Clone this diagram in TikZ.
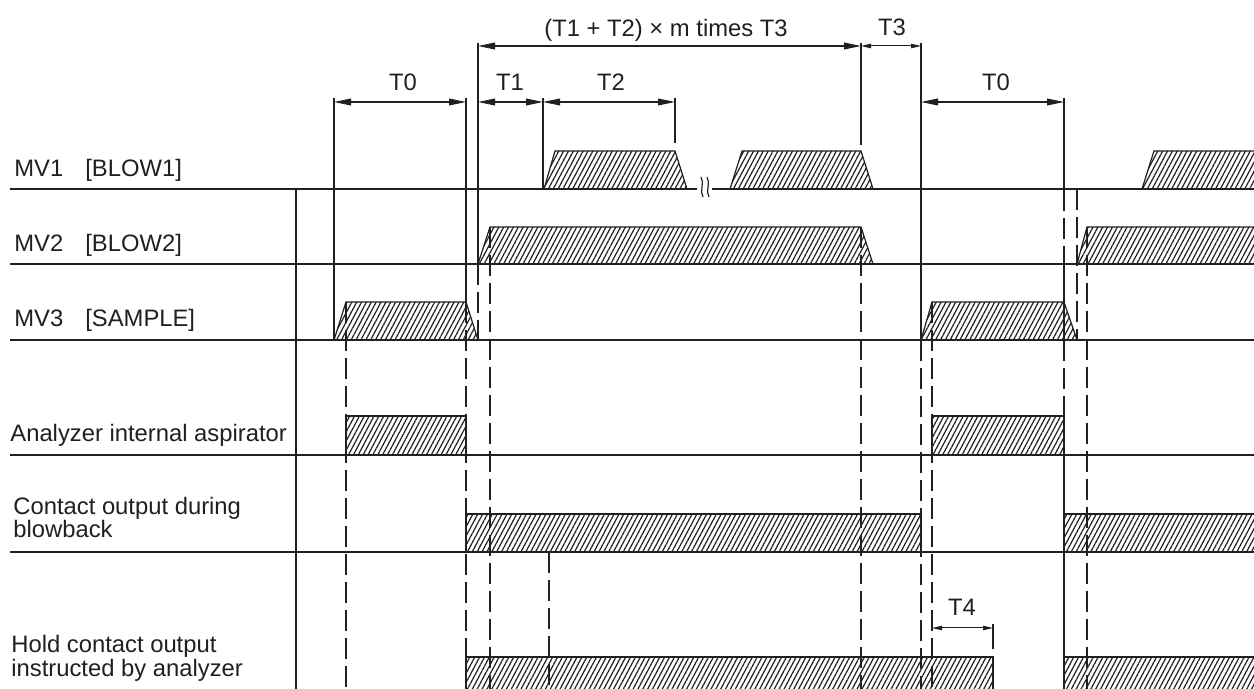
\documentclass[tikz,border=0pt]{standalone}
\usepackage{fontspec}
\setmainfont{Liberation Sans}
\usetikzlibrary{arrows.meta,patterns.meta}
\definecolor{ink}{HTML}{231F20}
\begin{document}
\begin{tikzpicture}[x=0.5pt,y=-0.5pt,
  every node/.style={font=\fontsize{11.9}{14}\selectfont, text=ink, inner sep=0pt},
  rowlbl/.style={anchor=base west},
  dimlbl/.style={anchor=base},
  rowline/.style={draw=ink, line width=0.7pt},
  ext/.style={draw=ink, line width=0.6pt},
  dsh/.style={draw=ink, line width=0.6pt, dash pattern=on 10.5pt off 3.5pt},
  pulse/.style={draw=ink, line width=0.6pt, line join=miter,
    pattern={Lines[angle=62,distance=2.15pt,line width=0.6pt]}, pattern color=ink},
  dimbig/.style={draw=ink, line width=0.55pt,
    {Triangle[length=8.5pt,width=3.4pt]}-{Triangle[length=8.5pt,width=3.4pt]}},
  dimsmall/.style={draw=ink, line width=0.5pt,
    {Triangle[length=5pt,width=2.2pt]}-{Triangle[length=5pt,width=2.2pt]}}]
\useasboundingbox[fill=white] (0,0) rectangle (1254,689);

% ---------- pulses ----------
% MV1
\draw[pulse] (544,189) -- (555,151) -- (675,151) -- (687,189) -- cycle;
\draw[pulse] (730,189) -- (742,151) -- (861,151) -- (873,189) -- cycle;
\draw[pulse] (1142,189) -- (1154,151) -- (1262,151) -- (1262,189) -- cycle;
% MV2
\draw[pulse] (478,264) -- (490,227) -- (861,227) -- (873,264) -- cycle;
\draw[pulse] (1077,264) -- (1087,227) -- (1262,227) -- (1262,264) -- cycle;
% MV3
\draw[pulse] (334,340) -- (346,302) -- (466,302) -- (478,340) -- cycle;
\draw[pulse] (921,340) -- (932,302) -- (1064,302) -- (1077,340) -- cycle;
% Aspirator
\draw[pulse] (346,455) -- (346,416) -- (466,416) -- (466,455) -- cycle;
\draw[pulse] (932,455) -- (932,416) -- (1064,416) -- (1064,455) -- cycle;
% Contact output during blowback
\draw[pulse] (466,552) -- (466,514) -- (921,514) -- (921,552) -- cycle;
\draw[pulse] (1064,552) -- (1064,514) -- (1262,514) -- (1262,552) -- cycle;
% Hold contact output
\draw[pulse] (466,697) -- (466,657) -- (993,657) -- (993,697) -- cycle;
\draw[pulse] (1064,697) -- (1064,657) -- (1262,657) -- (1262,697) -- cycle;

% ---------- row lines ----------
\draw[rowline] (10,189) -- (697,189);
\draw[rowline] (712,189) -- (1262,189);
\draw[rowline] (10,264) -- (1262,264);
\draw[rowline] (10,340) -- (1262,340);
\draw[rowline] (10,455) -- (1262,455);
\draw[rowline] (10,552) -- (1262,552);
\draw[ext] (296,189) -- (296,697);

% break mark on MV1
\draw[ext] (701,177) .. controls (705,183) and (699,191) .. (703,197);
\draw[ext] (707,177) .. controls (711,183) and (705,191) .. (709,197);

% ---------- solid extension lines ----------
\draw[ext] (334,98) -- (334,340);
\draw[ext] (466,98) -- (466,302);
\draw[ext] (478,43) -- (478,264);
\draw[ext] (543,98) -- (543,189);
\draw[ext] (675,98) -- (675,143);
\draw[ext] (861,43) -- (861,145);
\draw[ext] (921,43) -- (921,340);
\draw[ext] (1064,98) -- (1064,190);
\draw[ext] (1064,264) -- (1064,340);
\draw[ext] (1064,416) -- (1064,697);
\draw[ext] (993,624) -- (993,649);

% ---------- dashed guide lines ----------
\draw[dsh] (346,302) -- (346,697);
\draw[dsh] (466,302) -- (466,697);
\draw[dsh] (478,264) -- (478,340);
\draw[dsh] (490,227) -- (490,697);
\draw[dsh] (549,552) -- (549,697);
\draw[dsh] (861,227) -- (861,697);
\draw[dsh] (921,340) -- (921,697);
\draw[dsh] (932,302) -- (932,697);
\draw[dsh] (1064,190) -- (1064,264);
\draw[dsh] (1064,340) -- (1064,416);
\draw[dsh] (1077,189) -- (1077,340);
\draw[dsh] (1087,227) -- (1087,697);

% ---------- dimensions ----------
\coordinate (mA) at (478,46);  \coordinate (mB) at (861,46);
\coordinate (t3A) at (861,46); \coordinate (t3B) at (921,46);
\coordinate (t0A) at (334,102); \coordinate (t0B) at (466,102);
\coordinate (t1A) at (478,102); \coordinate (t1B) at (543,102);
\coordinate (t2A) at (543,102); \coordinate (t2B) at (675,102);
\coordinate (t0C) at (921,102); \coordinate (t0D) at (1064,102);
\coordinate (t4A) at (932,628); \coordinate (t4B) at (993,628);
\draw[dimbig] (mA) -- (mB);
\draw[dimsmall] (t3A) -- (t3B);
\draw[dimbig] (t0A) -- (t0B);
\draw[dimbig] (t1A) -- (t1B);
\draw[dimbig] (t2A) -- (t2B);
\draw[dimbig] (t0C) -- (t0D);
\draw[dimsmall] (t4A) -- (t4B);

\node[dimlbl] (lm)  at (666,37) {(T1 + T2) × m times T3};
\node[dimlbl] (lt3) at (892,36) {T3};
\node[dimlbl] (lt0) at (403,91) {T0};
\node[dimlbl] (lt1) at (510,91) {T1};
\node[dimlbl] (lt2) at (611,91) {T2};
\node[dimlbl] (lt0b) at (996,91) {T0};
\node[dimlbl] (lt4) at (962,616) {T4};

% ---------- row labels ----------
\node[rowlbl] (r1) at (14,177) {MV1\hspace{11pt}[BLOW1]};
\node[rowlbl] (r2) at (14,252) {MV2\hspace{11pt}[BLOW2]};
\node[rowlbl] (r3) at (14,327) {MV3\hspace{11pt}[SAMPLE]};
\node[rowlbl] (r4) at (10,442) {Analyzer internal aspirator};
\node[rowlbl] (r5a) at (13,515) {Contact output during};
\node[rowlbl] (r5b) at (13,538) {blowback};
\node[rowlbl] (r6a) at (11,653) {Hold contact output};
\node[rowlbl] (r6b) at (11,676) {instructed by analyzer};
\end{tikzpicture}
\end{document}
